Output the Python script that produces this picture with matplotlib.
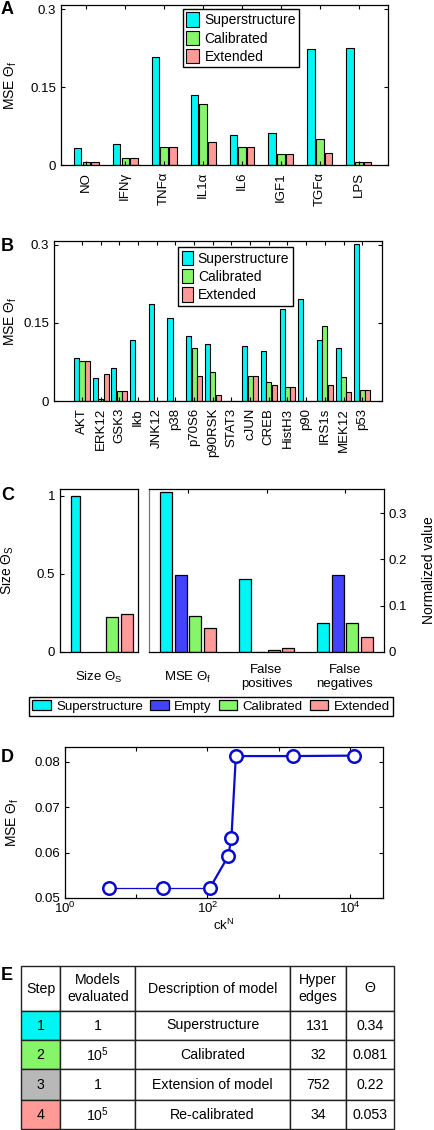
import matplotlib
matplotlib.use('Agg')
import matplotlib.pyplot as plt
import numpy as np
from matplotlib.patches import Patch

plt.rcParams['font.family'] = ['Liberation Sans', 'DejaVu Sans']
plt.rcParams['mathtext.fontset'] = 'custom'
plt.rcParams['mathtext.rm'] = 'Liberation Sans'
plt.rcParams['mathtext.it'] = 'Liberation Sans:italic'
plt.rcParams['mathtext.bf'] = 'Liberation Sans:bold'
plt.rcParams['mathtext.default'] = 'regular'
plt.rcParams['font.size'] = 9.5

# ---- data ----
# panel A: cytokines
cytokines = ['NO', 'IFNγ', 'TNFα', 'IL1α', 'IL6', 'IGF1', 'TGFα', 'LPS']
a_super = [0.032, 0.040, 0.208, 0.135, 0.057, 0.061, 0.224, 0.226]
a_calib = [0.005, 0.013, 0.035, 0.117, 0.035, 0.021, 0.050, 0.005]
a_ext = [0.005, 0.013, 0.035, 0.045, 0.035, 0.021, 0.024, 0.005]

# panel B: phosphoproteins
proteins = ['AKT', 'ERK12', 'GSK3', 'Ikb', 'JNK12', 'p38', 'p70S6', 'p90RSK',
            'STAT3', 'cJUN', 'CREB', 'HistH3', 'p90', 'IRS1s', 'MEK12', 'p53']
b_super = [0.083, 0.045, 0.064, 0.117, 0.186, 0.160, 0.125, 0.110,
           0.0, 0.106, 0.096, 0.177, 0.195, 0.117, 0.101, 0.301]
b_calib = [0.076, 0.003, 0.019, 0.0, 0.0, 0.0, 0.101, 0.056,
           0.0, 0.048, 0.037, 0.027, 0.0, 0.143, 0.047, 0.022]
b_ext = [0.076, 0.052, 0.019, 0.0, 0.0, 0.0, 0.048, 0.011,
         0.0, 0.048, 0.030, 0.027, 0.0, 0.030, 0.018, 0.022]

# panel C
model_names = ['Superstructure', 'Empty', 'Calibrated', 'Extended']
size_vals = [1.0, 0.0, 0.222, 0.243]
c_groups = ['MSE Θ$_f$', 'False\npositives', 'False\nnegatives']
c_super = [0.3445, 0.157, 0.063]
c_empty = [0.166, 0.0, 0.167]
c_calib = [0.078, 0.004, 0.063]
c_ext = [0.052, 0.0095, 0.033]

# panel D
ckn = [4.2, 24, 108, 195, 217, 250, 1570, 11400]
mse_d = [0.0522, 0.0522, 0.0522, 0.0592, 0.0633, 0.0813, 0.0813, 0.0814]

# panel E table
tbl_header = ['Step', 'Models\nevaluated', 'Description of model', 'Hyper\nedges', 'Θ']
steps = ['1', '2', '3', '4']
models_eval = ['1', '$10^5$', '1', '$10^5$']
descriptions = ['Superstructure', 'Calibrated', 'Extension of model', 'Re-calibrated']
hyper_edges = ['131', '32', '752', '34']
theta = ['0.34', '0.081', '0.22', '0.053']

CYAN = '#00f5f5'
BLUE = '#4343ff'
GREEN = '#86f56a'
PINK = '#ff9a96'
GRAY = '#b8b8b8'
model_colors = [CYAN, BLUE, GREEN, PINK]

W, H = 434, 1130
fig = plt.figure(figsize=(W / 100, H / 100), dpi=100)


def box(l, t, r, b):
    return [l / W, 1 - b / H, (r - l) / W, (b - t) / H]


def style(ax):
    ax.tick_params(direction='in', top=True, right=True, length=3, width=0.8)
    for s in ax.spines.values():
        s.set_linewidth(0.9)


def letter(y, s):
    fig.text(1 / W, 1 - y / H, s, fontsize=13, fontweight='bold', va='top')


# ---- A ----
ax = fig.add_axes(box(61, 5, 388, 165))
x = np.arange(1, len(cytokines) + 1)
for k, (vals, col, lab) in enumerate(zip([a_super, a_calib, a_ext],
                                         [CYAN, GREEN, PINK],
                                         ['Superstructure', 'Calibrated', 'Extended'])):
    ax.bar(x + (k - 1) * 0.225, vals, 0.19, color=col, edgecolor='k', lw=0.8, label=lab)
ax.set_xlim(0.35, 8.75)
ax.set_ylim(0, 0.308)
ax.set_yticks([0, 0.15, 0.3], ['0', '0.15', '0.3'])
ax.set_xticks(x, cytokines, rotation=90)
style(ax)
ax.tick_params(axis='x', pad=5)
ax.set_ylabel('MSE Θ$_f$', fontsize=10)
ax.yaxis.set_label_coords(-0.128, 0.5)
ax.legend(loc='upper left', bbox_to_anchor=(0.373, 0.975), borderaxespad=0,
          fancybox=False, edgecolor='k', framealpha=1, handlelength=0.9,
          handleheight=1.2, handletextpad=0.4, labelspacing=0.25, borderpad=0.25,
          fontsize=10)
letter(1, 'A')

# ---- B ----
ax = fig.add_axes(box(54, 241, 382, 401))
x = np.arange(1, len(proteins) + 1)
for k, (vals, col, lab) in enumerate(zip([b_super, b_calib, b_ext],
                                         [CYAN, GREEN, PINK],
                                         ['Superstructure', 'Calibrated', 'Extended'])):
    ax.bar(x + (k - 1) * 0.29, vals, 0.27, color=col, edgecolor='k', lw=0.8, label=lab)
ax.set_xlim(-0.5, 17.06)
ax.set_ylim(0, 0.307)
ax.set_yticks([0, 0.15, 0.3], ['0', '0.15', '0.3'])
ax.set_xticks(x, proteins, rotation=90)
style(ax)
ax.tick_params(axis='x', pad=5)
ax.set_ylabel('MSE Θ$_f$', fontsize=10)
ax.yaxis.set_label_coords(-0.108, 0.5)
ax.legend(loc='upper left', bbox_to_anchor=(0.379, 0.96), borderaxespad=0,
          fancybox=False, edgecolor='k', framealpha=1, handlelength=0.8,
          handleheight=1.2, handletextpad=0.35, labelspacing=0.25, borderpad=0.25,
          fontsize=10)
letter(238, 'B')

# ---- C ----
axl = fig.add_axes(box(60, 489, 138, 652))
offs_l = [-0.3, -0.07, 0.167, 0.355]
wid_l = [0.115, 0.154, 0.154, 0.154]
for v, o, w, col in zip(size_vals, offs_l, wid_l, model_colors):
    if v > 0:
        axl.bar(1 + o, v, w, color=col, edgecolor='k', lw=0.9)
axl.set_xlim(0.5, 1.5)
axl.set_ylim(0, 1.043)
axl.set_yticks([0, 0.5, 1], ['0', '0.5', '1'])
axl.set_xticks([1], ['Size Θ$_S$'])
axl.tick_params(direction='in', length=3, top=False, right=False, bottom=False)
axl.tick_params(axis='x', pad=18)
for t in axl.get_xticklabels():
    t.set_va('center')
axl.set_ylabel('Size Θ$_S$', fontsize=10)
axl.yaxis.set_label_coords(-0.56, 0.5)

axr = fig.add_axes(box(149, 489, 384, 652))
x = np.arange(1, len(c_groups) + 1)
for k, (vals, col) in enumerate(zip([c_super, c_empty, c_calib, c_ext], model_colors)):
    axr.bar(x + (k - 1.5) * 0.185, vals, 0.153, color=col, edgecolor='k', lw=0.9)
axr.set_xlim(0.5, 3.5)
axr.set_ylim(0, 0.352)
axr.yaxis.tick_right()
axr.yaxis.set_label_position('right')
axr.set_yticks([0, 0.1, 0.2, 0.3], ['0', '0.1', '0.2', '0.3'])
axr.set_xticks(x, c_groups)
axr.tick_params(direction='in', length=3, top=True, bottom=False, left=False, right=True)
axr.tick_params(axis='x', pad=18)
for t in axr.get_xticklabels():
    t.set_va('center')
    t.set_multialignment('center')
axr.spines['left'].set_color('#777777')
axr.set_ylabel('Normalized value', fontsize=10)
axr.yaxis.set_label_coords(1.162, 0.5)
for a in (axl, axr):
    for s in a.spines.values():
        s.set_linewidth(0.9)

handles = [Patch(facecolor=c, edgecolor='k', lw=0.9) for c in model_colors]
fig.legend(handles, model_names, loc='upper left', bbox_to_anchor=(29 / W, 1 - 697 / H),
           ncol=4, fancybox=False, edgecolor='k', framealpha=1, handlelength=1.4,
           handleheight=0.8, handletextpad=0.4, columnspacing=0.55, borderpad=0.25,
           borderaxespad=0, fontsize=9.5)
letter(487, 'C')

# ---- D ----
ax = fig.add_axes(box(65, 747, 383, 898))
ax.semilogx(ckn[:3], mse_d[:3], '-', color='#0a0ad0', lw=0.9)
ax.semilogx(ckn[2:], mse_d[2:], '-', color='#0a0ad0', lw=1.6)
ax.semilogx(ckn, mse_d, 'o', color='#0a0ad0', mfc='white', mew=1.8, ms=9, lw=0)
ax.set_xlim(1.066, 29100)
ax.set_ylim(0.05, 0.0833)
ax.set_yticks([0.05, 0.06, 0.07, 0.08], ['0.05', '0.06', '0.07', '0.08'])
ax.set_xticks([1, 10, 100, 1000, 10000], ['$10^0$', '', '$10^2$', '', '$10^4$'])
ax.minorticks_off()
style(ax)
ax.tick_params(axis='x', pad=2)
ax.set_xlabel('ck$^N$', labelpad=1)
ax.set_ylabel('MSE Θ$_f$', fontsize=10)
ax.yaxis.set_label_coords(-0.138, 0.5)
letter(749, 'D')

# ---- E ----
ax = fig.add_axes(box(21, 966, 394.3, 1129.3))
ax.axis('off')
cells = [tbl_header] + [list(r) for r in zip(steps, models_eval, descriptions, hyper_edges, theta)]
step_colors = [CYAN, GREEN, GRAY, PINK]
colours = [['white'] * 5] + [[c] + ['white'] * 4 for c in step_colors]
tbl = ax.table(cellText=cells, cellColours=colours, cellLoc='center',
               colWidths=[39.3, 75, 154.7, 56, 48.3], bbox=[0, 0, 1, 1])
tbl.auto_set_font_size(False)
tbl.set_fontsize(10.2)
row_h = [45, 29, 29.3, 30.7, 29.3]
for (r, c), cell in tbl.get_celld().items():
    cell.set_height(row_h[r])
    cell.set_edgecolor('#222222')
    cell.set_linewidth(1.0)
    if c == 4 and r > 0:
        cell._loc = 'left'
        cell.PAD = 0.04
letter(967, 'E')

fig.savefig('out.png', dpi=100)
